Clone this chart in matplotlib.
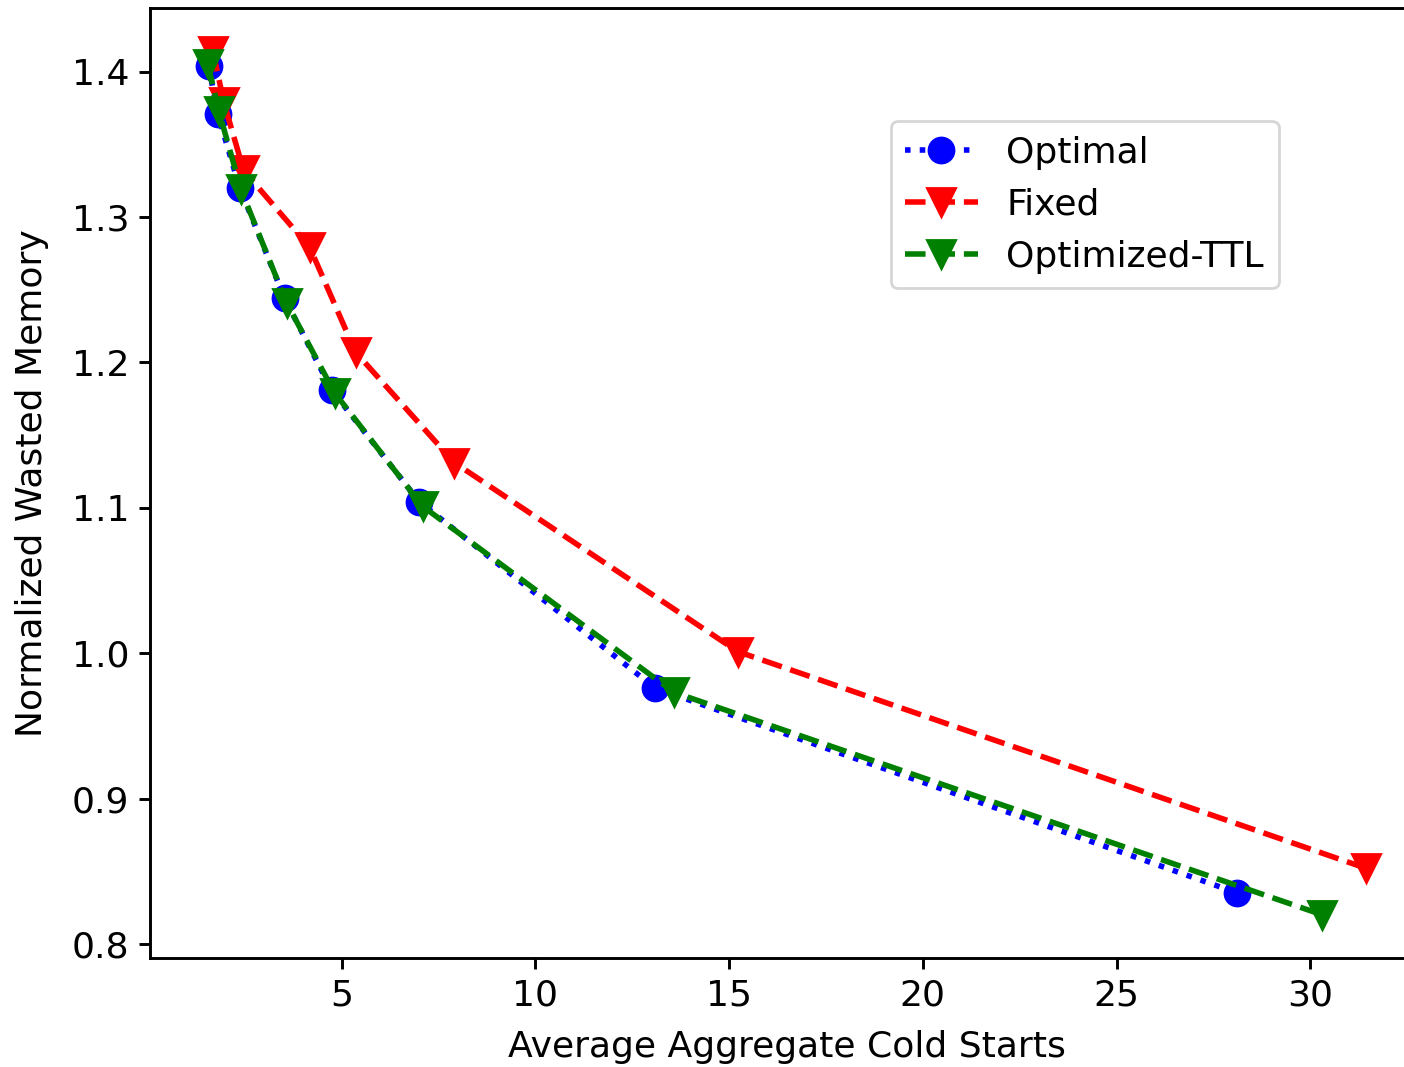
import matplotlib
matplotlib.use("Agg")
import matplotlib.pyplot as plt

# data
optimal_x = [1.57, 1.80, 2.37, 3.53, 4.74, 7.01, 13.09, 28.12]
optimal_y = [1.404, 1.371, 1.320, 1.244, 1.181, 1.104, 0.976, 0.835]

fixed_x = [1.68, 1.96, 2.47, 4.18, 5.36, 7.91, 15.23, 31.44]
fixed_y = [1.414, 1.379, 1.332, 1.279, 1.207, 1.131, 1.001, 0.852]

ttl_x = [1.55, 1.83, 2.40, 3.58, 4.82, 7.09, 13.58, 30.31]
ttl_y = [1.405, 1.373, 1.319, 1.241, 1.179, 1.101, 0.973, 0.820]

plt.rcParams['font.size'] = 13
plt.rcParams['axes.linewidth'] = 1.05
plt.rcParams['xtick.major.size'] = 4
plt.rcParams['ytick.major.size'] = 4
plt.rcParams['xtick.major.width'] = 1.05
plt.rcParams['ytick.major.width'] = 1.05

fig = plt.figure(figsize=(7.02, 5.335), dpi=200)
# axes run a bit past the right edge, like the cropped reference
ax = fig.add_axes([150 / 1404, 109 / 1067, 1274 / 1404, 950 / 1067])

ax.plot(optimal_x, optimal_y, ':', color='blue', marker='o', markersize=9, linewidth=2, label='Optimal')
ax.plot(fixed_x, fixed_y, '--', color='red', marker='v', markersize=10, linewidth=2, label='Fixed')
ax.plot(ttl_x, ttl_y, '--', color='green', marker='v', markersize=10, linewidth=2, label='Optimized-TTL')

ax.set_xlabel('Average Aggregate Cold Starts', labelpad=6)
ax.set_ylabel('Normalized Wasted Memory', labelpad=8)
ax.set_xticks([5, 10, 15, 20, 25, 30])
ax.legend(loc='upper right', bbox_to_anchor=(0.9, 0.9), fontsize=13)

fig.savefig('out.png', dpi=200)
